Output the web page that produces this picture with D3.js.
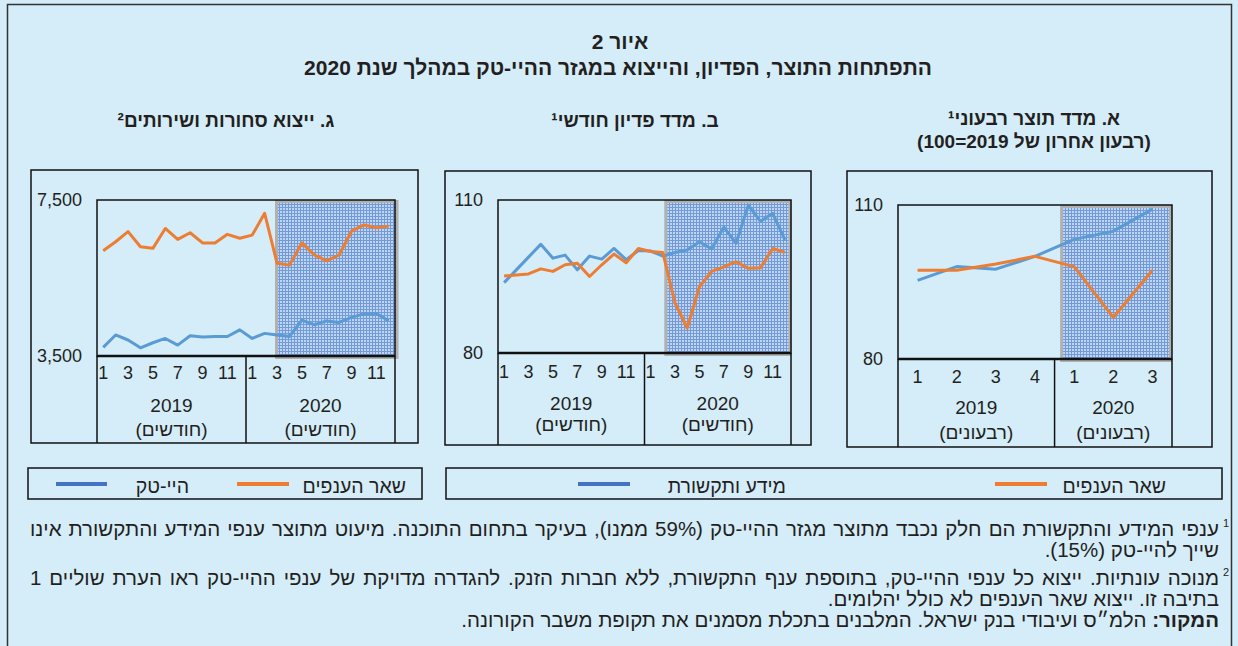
<!DOCTYPE html>
<html lang="he">
<head>
<meta charset="utf-8">
<script src="https://cdn.jsdelivr.net/npm/d3@7"></script>
<style>
  html, body { margin: 0; padding: 0; background: #d5ecf9; }
  svg { display: block; font-family: "Liberation Sans", "DejaVu Sans", sans-serif; }
</style>
</head>
<body>
<div id="chart"></div>
<script>
// ------------------------------------------------------
// Data
// ------------------------------------------------------
const YEARS = ["2019", "2020"];
const MONTHS = [1, 2, 3, 4, 5, 6, 7, 8, 9, 10, 11, 12];
const QUARTERS_2019 = [1, 2, 3, 4];
const QUARTERS_2020 = [1, 2, 3];

const MONTH_UNIT = "(חודשים)";
const QUARTER_UNIT = "(רבעונים)";

// ג. exports of goods and services (monthly)
const exportHighTech = [3720, 4040, 3910, 3710, 3840, 3950, 3780, 4020, 3990, 4000, 4000, 4170,
                        3950, 4080, 4040, 4000, 4420, 4300, 4400, 4360, 4490, 4580, 4590, 4400];
const exportOther = [6200, 6430, 6690, 6300, 6260, 6770, 6490, 6660, 6400, 6400, 6620, 6520,
                     6600, 7160, 5880, 5830, 6400, 6090, 5940, 6090, 6700, 6860, 6790, 6830];

// ב. monthly turnover index
const turnoverInfoComm = [93.8, 96.3, 98.8, 101.3, 98.6, 99.2, 96.3, 99.0, 98.4, 100.5, 98.3, 100.1,
                          100.0, 99.0, 99.7, 100.2, 101.8, 100.4, 104.7, 101.5, 109.0, 105.8, 107.4, 102.2];
const turnoverOther = [95.1, 95.3, 95.5, 96.5, 96.0, 97.3, 97.6, 95.0, 97.3, 99.4, 97.7, 100.5,
                       99.9, 99.7, 89.8, 84.9, 93.0, 96.0, 96.9, 97.9, 96.6, 96.7, 100.5, 99.7];

// א. quarterly product index (Q4 2019 = 100)
const gdpInfoComm = [95.3, 98.0, 97.5, 100, 103.3, 104.9, 109.2];
const gdpOther = [97.3, 97.3, 98.5, 100, 98.0, 88.1, 97.3];

const EXPORT_TICKS = [3500, 7500];
const INDEX_TICKS = [80, 110];

const LABEL_OTHER = "שאר הענפים";
const LABEL_HIGHTECH = "היי-טק";
const LABEL_INFO = "מידע ותקשורת";

const FIG_TITLE = ["איור 2", "התפתחות התוצר, הפדיון, והייצוא במגזר ההיי-טק במהלך שנת 2020"];

// ------------------------------------------------------
// Setup
// ------------------------------------------------------
const W = 1238, H = 646;
const BLUE = "#5b9bd5";
const ORANGE = "#ed7d31";
const LEGEND_BLUE = "#4472c4";

const MONTH_CATS = YEARS.flatMap(yr => MONTHS.map(m => `${yr}-${m}`));
const QUARTER_CATS = QUARTERS_2019.map(q => `2019-${q}`).concat(QUARTERS_2020.map(q => `2020-${q}`));

const svg = d3.select("#chart").append("svg")
  .attr("width", W)
  .attr("height", H);

const defs = svg.append("defs");
const pat = defs.append("pattern")
  .attr("id", "crisis")
  .attr("width", 3)
  .attr("height", 3)
  .attr("patternUnits", "userSpaceOnUse");
pat.append("rect").attr("width", 3).attr("height", 3).attr("fill", "#bed6f2");
pat.append("path")
  .attr("d", "M0,0.5H3M0.5,0V3")
  .attr("stroke", "#7299d8")
  .attr("stroke-width", 1);

// outer frame
svg.append("rect")
  .attr("x", 7.5).attr("y", 4.5)
  .attr("width", 1224).attr("height", 660)
  .attr("fill", "none")
  .attr("stroke", "#333")
  .attr("stroke-width", 1.5);

function heText(sel, x, y, str, anchor, size, weight) {
  return sel.append("text")
    .attr("x", x)
    .attr("y", y)
    .attr("direction", "rtl")
    .attr("text-anchor", anchor)
    .attr("font-size", size)
    .attr("font-weight", weight || "normal")
    .attr("fill", "#231f20")
    .text(str);
}

// figure title
heText(svg, 620, 49, FIG_TITLE[0], "middle", 21, "bold");
heText(svg, 618, 75, FIG_TITLE[1], "middle", 21, "bold");

// ------------------------------------------------------
// Panels
// ------------------------------------------------------
const panels = [
  {
    title: ["ג. ייצוא סחורות ושירותים²"], titleX: 226, titleY: [127],
    box: { x: 31, y: 170, w: 387, h: 273 },
    plot: { x: 97, y: 200, w: 298, h: 156 },
    cats: MONTH_CATS, unit: MONTH_UNIT,
    yDomain: [3500, 7500], yTicks: EXPORT_TICKS, yFormat: d3.format(","),
    series: [{ values: exportHighTech, color: BLUE }, { values: exportOther, color: ORANGE }],
    shadeFrom: 14, shadeShift: -2, shadeOver: 2,
    tickY: 379, yearY: 412, unitY: 436
  },
  {
    title: ["ב. מדד פדיון חודשי¹"], titleX: 635, titleY: [127],
    box: { x: 445, y: 171, w: 366, h: 274 },
    plot: { x: 498, y: 200, w: 293, h: 153 },
    cats: MONTH_CATS, unit: MONTH_UNIT,
    yDomain: [80, 110], yTicks: INDEX_TICKS, yFormat: d3.format("d"),
    series: [{ values: turnoverInfoComm, color: BLUE }, { values: turnoverOther, color: ORANGE }],
    shadeFrom: 13, shadeShift: 1.5, shadeOver: -1,
    tickY: 378, yearY: 410, unitY: 431
  },
  {
    title: ["א. מדד תוצר רבעוני¹", "(רבעון אחרון של 2019=100)"], titleX: 1034, titleY: [125, 148],
    box: { x: 847, y: 171, w: 365, h: 276 },
    plot: { x: 898, y: 205, w: 274, h: 154 },
    cats: QUARTER_CATS, unit: QUARTER_UNIT,
    yDomain: [80, 110], yTicks: INDEX_TICKS, yFormat: d3.format("d"),
    series: [{ values: gdpInfoComm, color: BLUE }, { values: gdpOther, color: ORANGE }],
    shadeFrom: 4, shadeShift: -14, shadeOver: -1.5,
    tickY: 383, yearY: 414, unitY: 439
  }
];

function drawPanel(p) {
  const g = svg.append("g");
  const plotBottom = p.plot.y + p.plot.h;
  const plotRight = p.plot.x + p.plot.w;

  p.title.forEach((t, i) => heText(g, p.titleX, p.titleY[i], t, "middle", 19, "bold"));

  g.append("rect")
    .attr("x", p.box.x).attr("y", p.box.y)
    .attr("width", p.box.w).attr("height", p.box.h)
    .attr("fill", "none")
    .attr("stroke", "#111")
    .attr("stroke-width", 1.5);

  const x = d3.scaleBand().domain(p.cats).range([p.plot.x, plotRight]);
  const y = d3.scaleLinear().domain(p.yDomain).range([plotBottom, p.plot.y]);
  const cx = c => x(c) + x.bandwidth() / 2;

  // crisis shading
  const sx = cx(p.cats[p.shadeFrom]) + p.shadeShift;
  g.append("rect")
    .attr("x", sx + 1.5)
    .attr("y", p.plot.y + 1.5)
    .attr("width", plotRight + p.shadeOver - sx - 1.5)
    .attr("height", p.plot.h)
    .attr("fill", "url(#crisis)")
    .attr("stroke", "#b0b0b0")
    .attr("stroke-width", 3);

  // plot frame
  g.append("rect")
    .attr("x", p.plot.x).attr("y", p.plot.y)
    .attr("width", p.plot.w).attr("height", p.plot.h)
    .attr("fill", "none")
    .attr("stroke", "#111")
    .attr("stroke-width", 1.5);
  g.append("line")
    .attr("x1", p.plot.x).attr("x2", plotRight)
    .attr("y1", plotBottom).attr("y2", plotBottom)
    .attr("stroke", "#111")
    .attr("stroke-width", 2.5);

  // lines
  p.series.forEach(s => {
    const line = d3.line()
      .x((d, i) => cx(p.cats[i]))
      .y(d => y(d));
    g.append("path")
      .datum(s.values)
      .attr("fill", "none")
      .attr("stroke", s.color)
      .attr("stroke-width", 3)
      .attr("stroke-linejoin", "round")
      .attr("d", line);
  });

  // y axis: only min and max labels
  const yAxis = d3.axisLeft(y)
    .tickValues(p.yTicks)
    .tickSize(0)
    .tickPadding(15)
    .tickFormat(p.yFormat);
  const ya = g.append("g").attr("transform", `translate(${p.plot.x},0)`).call(yAxis);
  ya.select(".domain").remove();
  ya.selectAll("text").attr("font-size", 18).attr("font-family", null).attr("fill", "#231f20");

  // x axis: category numbers (odd months / all quarters)
  const xAxis = d3.axisBottom(x)
    .tickSize(0)
    .tickFormat(c => {
      const n = +c.split("-")[1];
      return p.cats.length > 12 && n % 2 === 0 ? "" : n;
    });
  const xa = g.append("g").attr("transform", `translate(0,${plotBottom})`).call(xAxis);
  xa.select(".domain").remove();
  xa.selectAll("text")
    .attr("dy", null)
    .attr("y", p.tickY - plotBottom)
    .attr("font-size", 18)
    .attr("font-family", null)
    .attr("fill", "#231f20");

  // year groups with separators
  YEARS.forEach(yr => {
    const inYear = p.cats.filter(c => c.startsWith(yr));
    const x0 = x(inYear[0]);
    const x1 = x(inYear[inYear.length - 1]) + x.bandwidth();
    g.append("line")
      .attr("x1", x0).attr("x2", x0)
      .attr("y1", plotBottom).attr("y2", p.box.y + p.box.h)
      .attr("stroke", "#111").attr("stroke-width", 1.5);
    g.append("text")
      .attr("x", (x0 + x1) / 2).attr("y", p.yearY)
      .attr("text-anchor", "middle")
      .attr("font-size", 19)
      .attr("fill", "#231f20")
      .text(yr);
    heText(g, (x0 + x1) / 2, p.unitY, p.unit, "middle", 19);
  });
  g.append("line")
    .attr("x1", plotRight).attr("x2", plotRight)
    .attr("y1", plotBottom).attr("y2", p.box.y + p.box.h)
    .attr("stroke", "#111").attr("stroke-width", 1.5);
}

panels.forEach(drawPanel);

// ------------------------------------------------------
// Legends
// ------------------------------------------------------
const legends = [
  {
    box: { x: 28, y: 468, w: 394, h: 31 },
    items: [
      { label: LABEL_OTHER, color: ORANGE, textRight: 406, lineX: [237, 289] },
      { label: LABEL_HIGHTECH, color: LEGEND_BLUE, textRight: 189, lineX: [56, 107] }
    ]
  },
  {
    box: { x: 446, y: 468, w: 776, h: 31 },
    items: [
      { label: LABEL_OTHER, color: ORANGE, textRight: 1166, lineX: [995, 1047] },
      { label: LABEL_INFO, color: LEGEND_BLUE, textRight: 786, lineX: [578, 630] }
    ]
  }
];

legends.forEach(lg => {
  const g = svg.append("g");
  g.append("rect")
    .attr("x", lg.box.x).attr("y", lg.box.y)
    .attr("width", lg.box.w).attr("height", lg.box.h)
    .attr("fill", "none")
    .attr("stroke", "#111")
    .attr("stroke-width", 1.5);
  lg.items.forEach(it => {
    g.append("line")
      .attr("x1", it.lineX[0]).attr("x2", it.lineX[1])
      .attr("y1", 484).attr("y2", 484)
      .attr("stroke", it.color)
      .attr("stroke-width", 4);
    heText(g, it.textRight, 493, it.label, "start", 19.5);
  });
});

// ------------------------------------------------------
// Footnotes
// ------------------------------------------------------
const notes = [
  { sup: "1", text: "ענפי המידע והתקשורת הם חלק נכבד מתוצר מגזר ההיי-טק (59% ממנו), בעיקר בתחום התוכנה. מיעוט מתוצר ענפי המידע והתקשורת אינו", y: 536, justify: true },
  { text: "שייך להיי-טק (15%).", y: 557 },
  { sup: "2", text: "מנוכה עונתיות. ייצוא כל ענפי ההיי-טק, בתוספת ענף התקשורת, ללא חברות הזנק. להגדרה מדויקת של ענפי ההיי-טק ראו הערת שוליים 1", y: 585, justify: true },
  { text: "בתיבה זו. ייצוא שאר הענפים לא כולל יהלומים.", y: 606 },
  { bold: "המקור:", text: " הלמ״ס ועיבודי בנק ישראל. המלבנים בתכלת מסמנים את תקופת משבר הקורונה.", y: 627 }
];

const NOTE_RIGHT = 1219, NOTE_LEFT = 30;
notes.forEach(n => {
  if (n.sup) {
    svg.append("text")
      .attr("x", 1229).attr("y", n.y - 9)
      .attr("text-anchor", "end")
      .attr("font-size", 11)
      .attr("fill", "#231f20")
      .text(n.sup);
  }
  const t = svg.append("text")
    .attr("x", NOTE_RIGHT).attr("y", n.y)
    .attr("direction", "rtl")
    .attr("text-anchor", "start")
    .attr("font-size", 20.5)
    .attr("fill", "#231f20");
  if (n.bold) t.append("tspan").attr("font-weight", "bold").text(n.bold);
  t.append("tspan").text(n.text);
  if (n.justify) {
    const len = t.node().getComputedTextLength();
    const spaces = (n.text.match(/ /g) || []).length;
    const extra = (NOTE_RIGHT - NOTE_LEFT - len) / spaces;
    t.attr("word-spacing", extra);
  }
});
</script>
</body>
</html>
